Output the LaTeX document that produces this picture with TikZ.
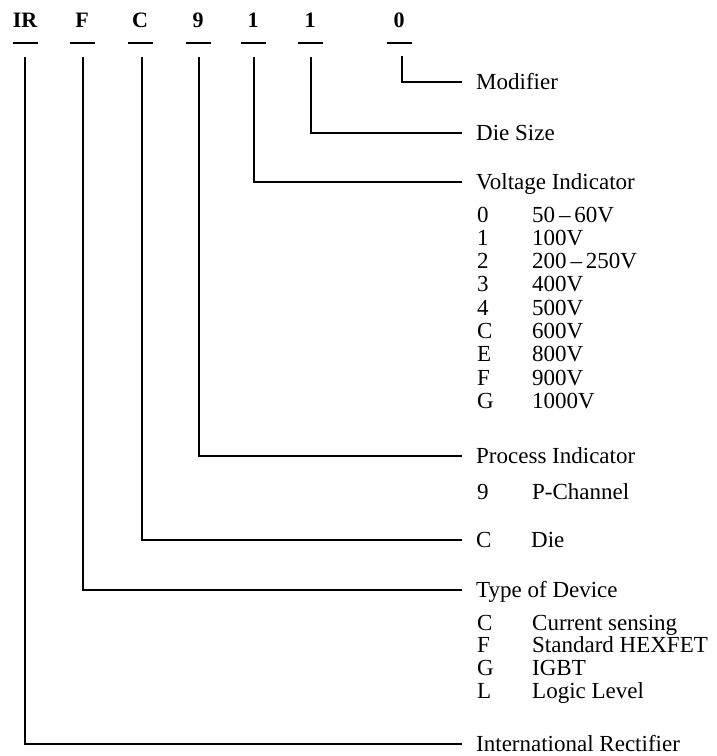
\documentclass[tikz,border=0pt]{standalone}
\usepackage{fontspec}
\setmainfont{Liberation Serif}
\begin{document}
\begin{tikzpicture}[x=1pt,y=-1pt,
  conn/.style={line width=2.5pt, line join=miter, line cap=butt},
  lbl/.style={anchor=west, inner xsep=14pt, inner ysep=0pt, text height=14pt, text depth=0pt, font=\fontsize{23}{25}\selectfont},
  item/.style={anchor=west, inner sep=0pt, text height=14pt, text depth=0pt, font=\fontsize{23}{25}\selectfont},
  letter/.style={font=\fontsize{22}{24}\selectfont\bfseries, inner sep=0pt, anchor=base},
  bar/.style={line width=1.6pt}]
\useasboundingbox (0,0) rectangle (717,756);

% code letters
\node[letter] (lIR) at (25,27) {IR};
\node[letter] (lF)  at (82,27) {F};
\node[letter] (lC)  at (140,27) {C};
\node[letter] (l9)  at (198,27) {9};
\node[letter] (l1a) at (253,27) {1};
\node[letter] (l1b) at (310,27) {1};
\node[letter] (l0)  at (399,27) {0};
\foreach \n in {lIR,lF,lC,l9,l1a,l1b,l0}
  \draw[bar] (\n.base) ++(-12.5,16) -- ++(25,0);

% tops of the leader lines
\coordinate (vIR) at (25,57);
\coordinate (vF)  at (83,57);
\coordinate (vC)  at (142,57);
\coordinate (v9)  at (199,57);
\coordinate (v1a) at (254,57);
\coordinate (v1b) at (311,57);
\coordinate (v0)  at (402,56);

% labels
\node[lbl] (mod)  at (462,82)  {Modifier};
\node[lbl] (die)  at (462,133) {Die Size};
\node[lbl] (volt) at (462,182) {Voltage Indicator};
\node[lbl] (proc) at (462,456) {Process Indicator};
\node[lbl] (cdie) at (462,540) {\makebox[55pt][l]{C}Die};
\node[lbl] (type) at (462,590) {Type of Device};
\node[lbl] (intl) at (462,744) {International Rectifier};

% voltage list
\foreach \c/\v [count=\i from 0] in {0/50\,--\,60V,1/100V,2/200\,--\,250V,3/400V,4/500V,C/600V,E/800V,F/900V,G/1000V}{
  \node[item] (vc\i) at (477,215+23.3*\i) {\c};
  \node[item] (vv\i) at (532,215+23.3*\i) {\v};
}
% process list
\node[item] (pc) at (477,492) {9};
\node[item] (pv) at (532,492) {P-Channel};
% type list
\foreach \c/\v [count=\i from 0] in {C/Current sensing,F/Standard HEXFET,G/IGBT,L/Logic Level}{
  \node[item] (tc\i) at (477,623+22.7*\i) {\c};
  \node[item] (tv\i) at (532,623+22.7*\i) {\v};
}

% connectors
\draw[conn] (v0)  |- (mod.west);
\draw[conn] (v1b) |- (die.west);
\draw[conn] (v1a) |- (volt.west);
\draw[conn] (v9)  |- (proc.west);
\draw[conn] (vC)  |- (cdie.west);
\draw[conn] (vF)  |- (type.west);
\draw[conn] (vIR) |- (intl.west);
\end{tikzpicture}
\end{document}
